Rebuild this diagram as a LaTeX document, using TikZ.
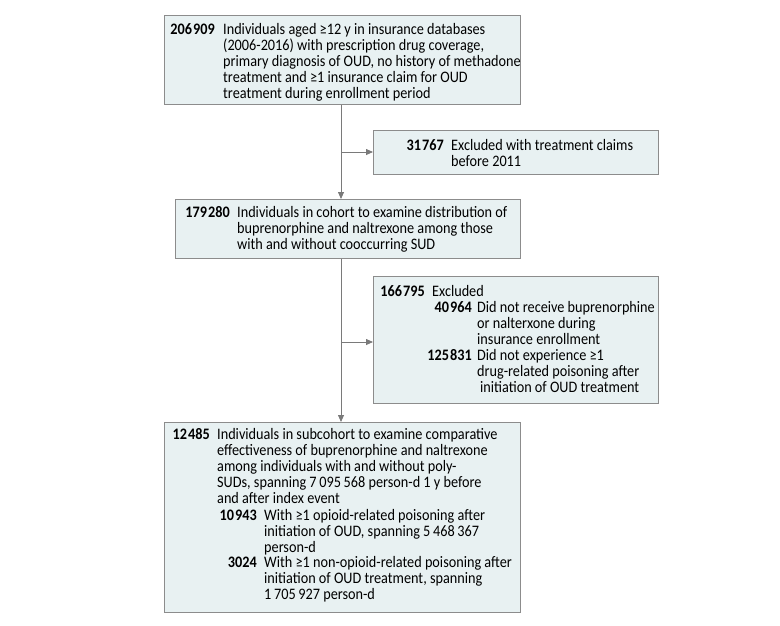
\documentclass[tikz,border=0pt]{standalone}
\usepackage{fontspec}
\setmainfont{Carlito}[FakeStretch=0.89]
\usetikzlibrary{arrows.meta}
\definecolor{boxfill}{HTML}{E8F1F2}
\definecolor{boxdraw}{HTML}{8C8C8C}
\definecolor{linec}{HTML}{7A7A7A}
\newcommand\fsz{\fontsize{16}{16}\selectfont}
\newcommand\st{\rule{0pt}{13pt}}
\newcommand\ts{\kern1pt}
\begin{document}
\begin{tikzpicture}[x=1pt,y=-1pt,
  box/.style={draw=boxdraw, fill=boxfill, line width=0.9pt, rectangle, inner sep=0pt, anchor=north west},
  num/.style={anchor=north east, inner sep=0pt, font=\fsz\bfseries},
  txt/.style={anchor=north west, inner sep=0pt, align=left, font=\fsz},
  conn/.style={draw=linec, line width=0.8pt},
  arr/.style={conn, -{Triangle[length=7pt,width=6pt]}}]
\useasboundingbox (0,0) rectangle (780,625);
% boxes
\node[box, minimum width=356pt, minimum height=89pt] (b1) at (164,15) {};
\node[box, minimum width=285pt, minimum height=44pt] (b2) at (373,130) {};
\node[box, minimum width=345pt, minimum height=59pt] (b3) at (175,199) {};
\node[box, minimum width=285pt, minimum height=127pt] (b4) at (373,276) {};
\node[box, minimum width=356pt, minimum height=190pt] (b5) at (164,422) {};
% box 1
\node[num] (n1) at (215,21) {\st 206\ts 909};
\node[txt] (t1) at (223,21) {\st Individuals aged ≥12 y in insurance databases\\(2006-2016) with prescription drug coverage,\\primary diagnosis of OUD, no history of methadone\\treatment and ≥1 insurance claim for OUD\\treatment during enrollment period};
% box 2
\node[num] (n2) at (444,137) {\st 31\ts 767};
\node[txt] (t2) at (451,137) {\st Excluded with treatment claims\\before 2011};
% box 3
\node[num] (n3) at (230,204) {\st 179\ts 280};
\node[txt] (t3) at (237,204) {\st Individuals in cohort to examine distribution of\\buprenorphine and naltrexone among those\\with and without cooccurring SUD};
% box 4
\node[num] (n4) at (425,283) {\st 166\ts 795};
\node[txt] (t4) at (432,283) {\st Excluded};
\node[num] (n4a) at (472,299) {\st 40\ts 964};
\node[txt] (t4a) at (477,299) {\st Did not receive buprenorphine\\or nalterxone during\\insurance enrollment};
\node[num] (n4b) at (472,347) {\st 125\ts 831};
\node[txt] (t4b) at (477,347) {\st Did not experience ≥1\\drug-related poisoning after\\\hspace{3pt}initiation of OUD treatment};
% box 5
\node[num] (n5) at (210,426) {\st 12\ts 485};
\node[txt] (t5) at (217,426) {\st Individuals in subcohort to examine comparative\\effectiveness of buprenorphine and naltrexone\\among individuals with and without poly-\\SUDs, spanning 7\,095\,568 person-d 1 y before\\and after index event};
\node[num] (n5a) at (257,507) {\st 10\ts 943};
\node[txt] (t5a) at (264,507) {\st With ≥1 opioid-related poisoning after\\initiation of OUD, spanning 5\,468\,367\\person-d};
\node[num] (n5b) at (257,554) {\st 3024};
\node[txt] (t5b) at (264,554) {\st With ≥1 non-opioid-related poisoning after\\initiation of OUD treatment, spanning\\1\,705\,927 person-d};
% connectors
\coordinate (trunk) at (341,0);
\coordinate (j1) at (341,152);
\coordinate (j2) at (341,342);
\draw[arr] (b1.south -| trunk) -- (b3.north -| trunk);
\draw[arr] (b3.south -| trunk) -- (b5.north -| trunk);
\draw[arr] (j1) -- (b2.west |- j1);
\draw[arr] (j2) -- (b4.west |- j2);
\end{tikzpicture}
\end{document}
